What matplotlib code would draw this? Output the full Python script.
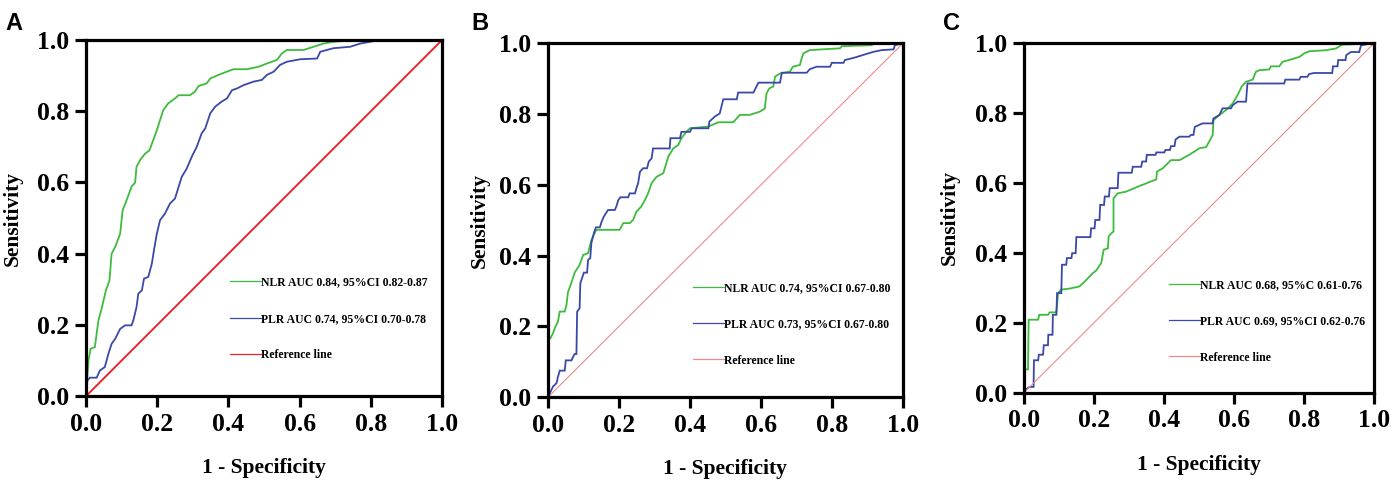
#Recreate three ROC curve panels (NLR vs PLR)
import numpy as np
import matplotlib
matplotlib.use('Agg')
import matplotlib.pyplot as plt

#Panel A curves
a_nlr_x = [0, 0.007, 0.013, 0.025, 0.035, 0.044, 0.056, 0.066, 0.072, 0.082, 0.096, 0.103, 0.114, 0.128, 0.138, 0.142,
           0.152, 0.166, 0.178, 0.189, 0.199, 0.208, 0.217, 0.231, 0.25, 0.26, 0.292, 0.306, 0.316, 0.339, 0.349,
           0.377, 0.414, 0.452, 0.485, 0.508, 0.536, 0.55, 0.564, 0.611, 0.639, 0.667, 0.695, 0.752, 1.0]
a_nlr_y = [0, 0.10, 0.133, 0.138, 0.213, 0.246, 0.297, 0.325, 0.40, 0.419, 0.456, 0.522, 0.55, 0.588, 0.60, 0.644,
           0.663, 0.681, 0.69, 0.719, 0.747, 0.775, 0.803, 0.822, 0.836, 0.845, 0.845, 0.855, 0.871, 0.878, 0.892,
           0.904, 0.918, 0.918, 0.925, 0.934, 0.944, 0.962, 0.972, 0.972, 0.981, 0.99, 0.995, 1.0, 1.0]
a_plr_x = [0, 0.004, 0.011, 0.03, 0.039, 0.053, 0.063, 0.072, 0.082, 0.096, 0.11, 0.128, 0.133, 0.142, 0.147, 0.157,
           0.163, 0.175, 0.185, 0.191, 0.199, 0.208, 0.222, 0.236, 0.25, 0.269, 0.283, 0.297, 0.311, 0.325, 0.335,
           0.349, 0.363, 0.381, 0.396, 0.41, 0.424, 0.442, 0.47, 0.494, 0.508, 0.527, 0.545, 0.564, 0.602, 0.649,
           0.658, 0.695, 0.742, 0.77, 0.798, 0.827, 1.0]
a_plr_y = [0, 0.044, 0.052, 0.052, 0.072, 0.082, 0.119, 0.147, 0.161, 0.189, 0.199, 0.199, 0.213, 0.25, 0.288, 0.297,
           0.33, 0.335, 0.372, 0.41, 0.456, 0.494, 0.513, 0.541, 0.555, 0.616, 0.639, 0.672, 0.70, 0.738, 0.752,
           0.794, 0.813, 0.827, 0.836, 0.859, 0.864, 0.873, 0.883, 0.888, 0.902, 0.911, 0.93, 0.939, 0.946, 0.948,
           0.967, 0.977, 0.981, 0.99, 0.995, 1.0, 1.0]

#Panel B curves
b_nlr_x = [0, 0, 0.007, 0.014, 0.019, 0.028, 0.033, 0.047, 0.052, 0.056, 0.066, 0.075, 0.089, 0.099, 0.113, 0.122,
           0.136, 0.202, 0.212, 0.23, 0.24, 0.249, 0.263, 0.273, 0.282, 0.292, 0.306, 0.325, 0.339, 0.353, 0.367,
           0.376, 0.39, 0.40, 0.452, 0.48, 0.522, 0.541, 0.569, 0.597, 0.611, 0.616, 0.624, 0.635, 0.64, 0.654,
           0.682, 0.69, 0.71, 0.715, 0.72, 0.738, 0.823, 0.828, 0.913, 0.917, 1.0]
b_nlr_y = [0, 0.171, 0.167, 0.181, 0.195, 0.214, 0.242, 0.242, 0.261, 0.296, 0.324, 0.352, 0.374, 0.402, 0.407, 0.444,
           0.473, 0.473, 0.492, 0.492, 0.501, 0.524, 0.539, 0.557, 0.576, 0.605, 0.623, 0.633, 0.68, 0.703, 0.713,
           0.732, 0.75, 0.76, 0.765, 0.777, 0.777, 0.798, 0.798, 0.807, 0.816, 0.859, 0.873, 0.878, 0.906, 0.915,
           0.92, 0.934, 0.939, 0.958, 0.972, 0.981, 0.986, 0.992, 0.995, 1.0, 1.0]
b_plr_x = [0, 0.005, 0.014, 0.024, 0.028, 0.033, 0.047, 0.05, 0.066, 0.071, 0.075, 0.08, 0.082, 0.089, 0.091, 0.101,
           0.11, 0.113, 0.119, 0.122, 0.129, 0.135, 0.146, 0.151, 0.157, 0.169, 0.188, 0.193, 0.198, 0.204, 0.226,
           0.23, 0.245, 0.249, 0.254, 0.259, 0.268, 0.279, 0.284, 0.292, 0.296, 0.343, 0.345, 0.372, 0.376, 0.40,
           0.405, 0.452, 0.455, 0.47, 0.484, 0.494, 0.532, 0.536, 0.579, 0.593, 0.654, 0.659, 0.729, 0.738, 0.757,
           0.795, 0.80, 0.833, 0.837, 0.865, 0.894, 0.917, 0.941, 0.974, 0.978, 1.0]
b_plr_y = [0, 0.011, 0.03, 0.04, 0.058, 0.075, 0.075, 0.104, 0.104, 0.115, 0.122, 0.122, 0.242, 0.251, 0.322, 0.352,
           0.352, 0.388, 0.393, 0.435, 0.463, 0.48, 0.48, 0.496, 0.51, 0.529, 0.529, 0.54, 0.557, 0.565, 0.565,
           0.576, 0.576, 0.59, 0.605, 0.637, 0.647, 0.647, 0.666, 0.675, 0.703, 0.703, 0.732, 0.732, 0.75, 0.75,
           0.76, 0.76, 0.779, 0.793, 0.802, 0.842, 0.842, 0.861, 0.861, 0.889, 0.889, 0.917, 0.917, 0.927, 0.934,
           0.934, 0.945, 0.945, 0.953, 0.96, 0.969, 0.976, 0.981, 0.983, 0.995, 1.0]

#Panel C curves
c_nlr_x = [0, 0.003, 0.012, 0.014, 0.041, 0.044, 0.069, 0.074, 0.093, 0.098, 0.107, 0.131, 0.159, 0.174, 0.188, 0.197,
           0.207, 0.221, 0.228, 0.24, 0.242, 0.25, 0.256, 0.256, 0.268, 0.292, 0.33, 0.378, 0.38, 0.397, 0.42,
           0.444, 0.472, 0.501, 0.52, 0.529, 0.539, 0.541, 0.558, 0.577, 0.596, 0.61, 0.622, 0.634, 0.653, 0.662,
           0.672, 0.70, 0.705, 0.729, 0.738, 0.757, 0.786, 0.80, 0.814, 0.861, 0.89, 0.909, 0.937, 0.975, 1.0]
c_nlr_y = [0, 0.067, 0.067, 0.209, 0.209, 0.223, 0.223, 0.23, 0.23, 0.285, 0.295, 0.298, 0.304, 0.318, 0.333, 0.342,
           0.35, 0.371, 0.409, 0.413, 0.447, 0.456, 0.461, 0.556, 0.57, 0.575, 0.591, 0.61, 0.632, 0.642, 0.665,
           0.665, 0.68, 0.699, 0.702, 0.718, 0.737, 0.779, 0.794, 0.808, 0.827, 0.851, 0.876, 0.889, 0.895, 0.917,
           0.922, 0.924, 0.933, 0.933, 0.946, 0.951, 0.96, 0.97, 0.976, 0.979, 0.984, 0.995, 0.996, 0.998, 1.0]
c_plr_x = [0, 0.006, 0.017, 0.028, 0.029, 0.041, 0.043, 0.055, 0.057, 0.069, 0.07, 0.082, 0.083, 0.093, 0.095, 0.107,
           0.109, 0.121, 0.123, 0.136, 0.138, 0.148, 0.15, 0.19, 0.192, 0.202, 0.204, 0.216, 0.218, 0.229, 0.231,
           0.243, 0.245, 0.268, 0.27, 0.308, 0.311, 0.335, 0.338, 0.349, 0.351, 0.376, 0.378, 0.401, 0.404, 0.417,
           0.42, 0.43, 0.433, 0.444, 0.472, 0.477, 0.484, 0.488, 0.499, 0.51, 0.539, 0.541, 0.558, 0.567, 0.591,
           0.596, 0.61, 0.634, 0.638, 0.743, 0.746, 0.786, 0.79, 0.809, 0.814, 0.828, 0.88, 0.882, 0.895, 0.897,
           0.918, 0.92, 0.933, 0.957, 0.962, 1.0]
c_plr_y = [0, 0.01, 0.017, 0.017, 0.093, 0.093, 0.109, 0.109, 0.136, 0.136, 0.166, 0.166, 0.223, 0.223, 0.285, 0.285,
           0.366, 0.366, 0.385, 0.385, 0.399, 0.399, 0.445, 0.445, 0.47, 0.47, 0.494, 0.494, 0.537, 0.537, 0.561,
           0.561, 0.585, 0.585, 0.629, 0.629, 0.646, 0.646, 0.661, 0.661, 0.68, 0.68, 0.687, 0.687, 0.694, 0.694,
           0.705, 0.705, 0.724, 0.732, 0.732, 0.737, 0.737, 0.76, 0.765, 0.77, 0.77, 0.784, 0.794, 0.813, 0.813,
           0.822, 0.832, 0.832, 0.884, 0.884, 0.895, 0.895, 0.903, 0.903, 0.911, 0.914, 0.914, 0.933, 0.933, 0.951,
           0.951, 0.965, 0.974, 0.974, 0.993, 1.0]

#Legend labels and tick values
panel_letters = ['A', 'B', 'C']
nlr_labels = ['NLR AUC 0.84, 95%CI 0.82-0.87', 'NLR AUC 0.74, 95%CI 0.67-0.80', 'NLR AUC 0.68, 95%C 0.61-0.76']
plr_labels = ['PLR AUC 0.74, 95%CI 0.70-0.78', 'PLR AUC 0.73, 95%CI 0.67-0.80', 'PLR AUC 0.69, 95%CI 0.62-0.76']
ref_label = 'Reference line'
ticks = [0.0, 0.2, 0.4, 0.6, 0.8, 1.0]
ref_xy = [0, 1]

curves = [(a_nlr_x, a_nlr_y, a_plr_x, a_plr_y),
          (b_nlr_x, b_nlr_y, b_plr_x, b_plr_y),
          (c_nlr_x, c_nlr_y, c_plr_x, c_plr_y)]

#Layout of each panel in figure fractions
positions = [[0.0618, 0.178, 0.256, 0.739],
             [0.394, 0.176, 0.255, 0.734],
             [0.736, 0.185, 0.252, 0.726]]
ref_styles = [dict(color='#e8262a', lw=1.4), dict(color='#f08a8a', lw=0.8), dict(color='#f08a8a', lw=0.8)]
legend_anchor = [(0.405, 0.336), (0.41, 0.325), (0.415, 0.325)]
letter_x = [0.004, 0.339, 0.678]
ylabel_pad = [10, 7, 11]

serif = 'Liberation Serif'
green = '#3dbb3d'
blue = '#3a48a8'

fig = plt.figure(figsize=(13.91, 4.82), dpi=100)

for i in range(3):
  ax = fig.add_axes(positions[i])
  nx, ny, px, py = curves[i]
  ax.plot(nx, ny, color=green, lw=1.3, label=nlr_labels[i], solid_joinstyle='miter')
  ax.plot(px, py, color=blue, lw=1.3, label=plr_labels[i], solid_joinstyle='miter')
  ax.plot(ref_xy, ref_xy, label=ref_label, **ref_styles[i])
  ax.set_xlim(0, 1)
  ax.set_ylim(0, 1)
  ax.set_xticks(ticks)
  ax.set_yticks(ticks)
  ax.set_xticklabels(['%.1f' % t for t in ticks], fontfamily=serif, fontweight='bold', fontsize=18.5)
  ax.set_yticklabels(['%.1f' % t for t in ticks], fontfamily=serif, fontweight='bold', fontsize=18.5)
  for s in ax.spines.values():
    s.set_linewidth(2.3)
  ax.tick_params(direction='out', length=8, width=2.3, pad=4)
  ax.set_xlabel('1 - Specificity', fontfamily=serif, fontweight='bold', fontsize=15.5, labelpad=16)
  ax.set_ylabel('Sensitivity', fontfamily=serif, fontweight='bold', fontsize=15.5, labelpad=ylabel_pad[i])
  leg = ax.legend(loc='upper left', bbox_to_anchor=legend_anchor[i], frameon=False,
                  prop=dict(family=serif, weight='bold', size=8.5), handlelength=2.6,
                  handletextpad=0.0, labelspacing=2.05, borderpad=0, borderaxespad=0)
  for h in leg.get_lines():
    h.set_linewidth(0.9)
  fig.text(letter_x[i], 0.975, panel_letters[i], fontfamily='Liberation Sans', fontweight='bold',
           fontsize=17, va='top', ha='left')

fig.savefig('out.png', dpi=100)
